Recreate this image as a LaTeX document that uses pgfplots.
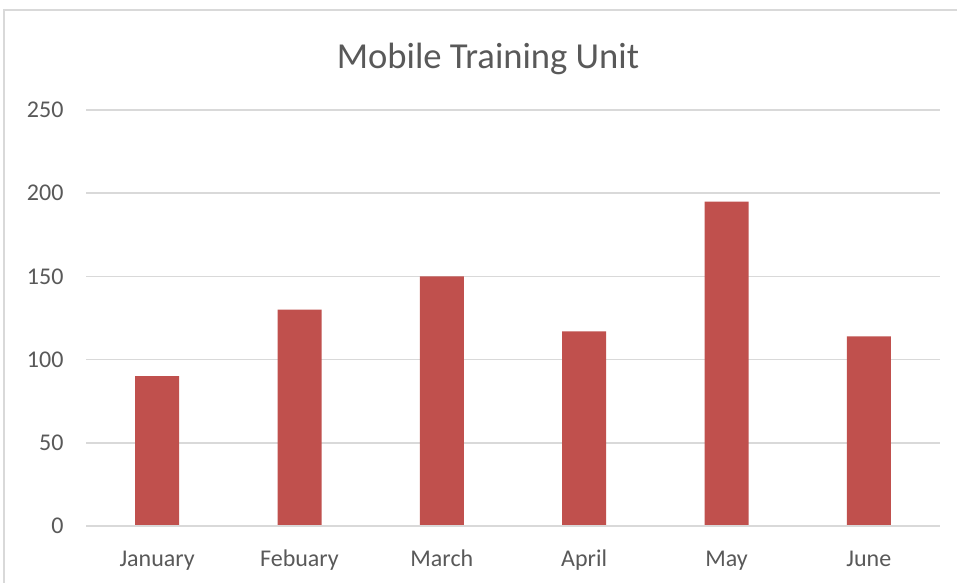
\documentclass[border=0pt]{standalone}
\usepackage{pgfplots}
\pgfplotsset{compat=1.18}
\usepackage{fontspec}
\setmainfont{Carlito}
\definecolor{barred}{HTML}{C0504D}
\definecolor{txtgray}{HTML}{595959}
\definecolor{gridgray}{HTML}{D9D9D9}
\begin{document}
\begin{tikzpicture}[x=1bp,y=1bp]
\useasboundingbox (0,0) rectangle (957,583);
\fill[white] (0,0) rectangle (957,583);
\draw[gridgray, line width=1.5bp] (4,0) -- (4,573) -- (957,573);
\node[text=txtgray, font=\fontsize{36.6bp}{44bp}\selectfont] at (488,524) {Mobile Training Unit};
\begin{axis}[
  at={(86bp,57bp)}, anchor=south west,
  width=854bp, height=416bp, scale only axis,
  xmin=-0.5, xmax=5.5, ymin=0, ymax=250,
  ytick={0,50,100,150,200,250},
  xtick={0,1,2,3,4,5},
  xticklabels={January,Febuary,March,April,May,June},
  ymajorgrids,
  grid style={gridgray, line width=1.5bp},
  axis line style={draw=none},
  major tick style={draw=none},
  tick label style={text=txtgray, font=\fontsize{24bp}{29bp}\selectfont},
  /pgf/number format/assume math mode=true,
  yticklabel style={xshift=-19bp},
  xticklabel style={anchor=base, yshift=-41bp},
  clip=false,
]
\addplot[ybar, bar width=44bp, fill=barred, draw=none] coordinates {
  (0,90) (1,130) (2,150) (3,117) (4,195) (5,114)
};
\draw[gridgray, line width=1.5bp] (axis cs:-0.5,0) -- (axis cs:5.5,0);
\end{axis}
\end{tikzpicture}
\end{document}
